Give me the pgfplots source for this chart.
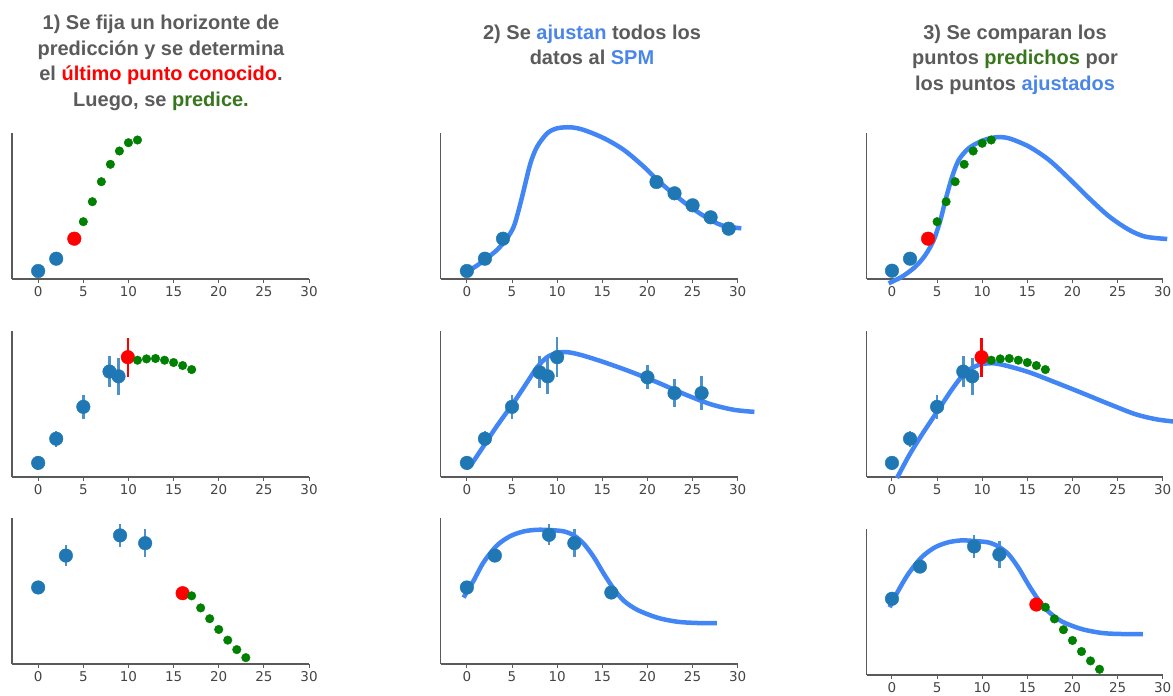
\documentclass[border=0pt]{standalone}
\usepackage{pgfplots}
\pgfplotsset{compat=1.18}
\usepackage{fontspec}
\newfontfamily\titlefont{Liberation Sans}
\newfontfamily\tickfont{DejaVu Sans}
\definecolor{titlegray}{HTML}{5B5B5B}
\definecolor{tred}{HTML}{FF0000}
\definecolor{tgreen}{HTML}{38761D}
\definecolor{tblue}{HTML}{4A86E8}
\definecolor{tabblue}{HTML}{1F77B4}
\definecolor{errblue}{HTML}{4C92C9}
\definecolor{curveblue}{HTML}{4285F4}
\definecolor{mplgreen}{HTML}{008000}
\definecolor{axisgray}{HTML}{5A5A5A}
\definecolor{ticktext}{HTML}{444444}
\pgfplotsset{
  panel/.style={
    width=297pt, height=146pt, scale only axis,
    xmin=-2.9, xmax=30, ymin=0, ymax=146,
    axis x line=bottom, axis y line=left,
    axis line style={-, draw=axisgray, line width=1.3pt},
    xtick={0,5,...,30}, ytick=\empty,
    tick align=outside, major tick length=4pt,
    tick style={draw=axisgray, line width=1pt},
    /pgf/number format/assume math mode=true,
    xticklabel style={font=\tickfont\fontsize{13.5pt}{15pt}\selectfont, text=ticktext},
    clip=false, anchor=south west,
  },
  bluept/.style={only marks, color=tabblue, mark=*, mark size=6.8pt, mark options={solid, draw=tabblue, fill=tabblue, line width=0.4pt}},
  redpt/.style={only marks, color=tred, mark=*, mark size=6.8pt, mark options={solid, draw=tred, fill=tred, line width=0.4pt}},
  greenpt/.style={only marks, color=mplgreen, mark=*, mark size=4.3pt, mark options={solid, draw=mplgreen, fill=mplgreen, line width=0.4pt}},
  spm/.style={smooth, line width=4.5pt, color=curveblue, mark=none},
}
\tikzset{ttl/.style={anchor=base, inner sep=0pt, text=titlegray, font=\titlefont\bfseries\fontsize{20pt}{24pt}\selectfont}}
\begin{document}
\begin{tikzpicture}
% ---- titles
\node[ttl] at (161pt,-29.3pt) {1) Se fija un horizonte de};
\node[ttl] at (161pt,-55pt) {predicción y se determina};
\node[ttl] at (161pt,-80.5pt) {el \textcolor{tred}{último punto conocido}.};
\node[ttl] at (161pt,-106pt) {Luego, se \textcolor{tgreen}{predice.}};
\node[ttl] at (592pt,-39.3pt) {2) Se \textcolor{tblue}{ajustan} todos los};
\node[ttl] at (592pt,-64.5pt) {datos al \textcolor{tblue}{SPM}};
\node[ttl] at (1015pt,-39.3pt) {3) Se comparan los};
\node[ttl] at (1015pt,-64.5pt) {puntos \textcolor{tgreen}{predichos} por};
\node[ttl] at (1015pt,-90pt) {los puntos \textcolor{tblue}{ajustados}};

% ================= ROW 1
\begin{axis}[panel, at={(12pt,-279pt)}]
\addplot[bluept] coordinates {(0,8) (2,20.3)};
\addplot[redpt] coordinates {(4,40.3)};
\addplot[greenpt] coordinates {(5,57.3) (6,77.3) (7,97.3) (8,114.7) (9,128) (10,136.3) (11,139)};
\end{axis}

\begin{axis}[panel, at={(440.7pt,-279pt)}]
\addplot[bluept] coordinates {(0,8) (2,20.3) (4,40.3) (21,97) (23,85.7) (25,73.7) (27,61.7) (29,50.3)};
\addplot[spm] coordinates {(-0.37,5) (1.48,15.7) (3.33,29) (4.44,40.7) (5.19,52.3) (5.74,69) (6.3,89) (7.04,115.7) (7.78,132.3) (8.9,145.7) (10,150.7) (11.5,151.7) (12.96,149) (15.2,140.7) (17.4,129) (19.6,112.3) (21.1,99) (22.6,87.3) (24.8,71.7) (27,59) (28.5,53) (30.4,50.7)};
\end{axis}

\begin{axis}[panel, at={(866.7pt,-279pt)}, xmin=-2.8, width=296pt]
\addplot[bluept] coordinates {(0,8.3) (2,20.3)};
\addplot[spm] coordinates {(-0.37,-4.3) (1.11,2.3) (2.59,12.3) (3.7,24) (4.63,39) (5.37,59) (5.93,79) (6.67,102.3) (7.4,119) (8.5,130.7) (10,138.3) (11.5,141.7) (12.96,140.7) (15.2,132.3) (17.4,119) (19.6,100.7) (21.85,80.7) (24.1,62.3) (26.3,49) (28.1,42.3) (30.5,40)};
\addplot[redpt] coordinates {(4,40.3)};
\addplot[greenpt] coordinates {(5,57.3) (6,77.3) (7,97.3) (8,114.7) (9,128) (10,135.7) (11,139)};
\end{axis}

% ================= ROW 2
\begin{axis}[panel, at={(12pt,-477pt)}, ymax=145]
\addplot[bluept, error bars/.cd, y dir=both, y explicit, error mark=none,
  error bar style={line width=2.5pt, color=errblue}] table[x=x,y=y,y error=e] {
x y e
0 14 7
2 38 8
5 69.7 11.7
7.9 104.7 15.8
8.9 100 18.3
};
\addplot[redpt, error bars/.cd, y dir=both, y explicit, error mark=none,
  error bar style={line width=2.5pt, color=tred}] table[x=x,y=y,y error=e] {
x y e
9.93 119 19.5
};
\addplot[greenpt] coordinates {(11,116) (12,117.3) (13,117.7) (14,116) (15,113.7) (16,110.7) (17,106.7)};
\end{axis}

\begin{axis}[panel, at={(440.7pt,-477pt)}, ymax=145]
\addplot[bluept, error bars/.cd, y dir=both, y explicit, error mark=none,
  error bar style={line width=2.5pt, color=errblue}] table[x=x,y=y,y error=e] {
x y e
0 14 7
2 38 8
5 69.7 11.7
8.05 104 16
8.95 100 18
10 119 20
20 99 12
23 83.3 14
26 83.3 17
};
\addplot[spm] coordinates {(0.37,10.7) (1.85,30.7) (3.33,50.7) (5.19,74) (6.67,94) (7.78,109) (8.89,119) (10,123.3) (11.1,124) (12.6,121.3) (15.2,114) (18.1,104.7) (21.1,94) (24.1,82.3) (27,72.3) (29.6,66.7) (31.85,64.7)};
\end{axis}

\begin{axis}[panel, at={(866.7pt,-477pt)}, xmin=-2.8, width=296pt, ymax=145]
\addplot[bluept, error bars/.cd, y dir=both, y explicit, error mark=none,
  error bar style={line width=2.5pt, color=errblue}] table[x=x,y=y,y error=e] {
x y e
0 14 7
2 38 8
5 69.7 11.7
7.9 104.7 15.8
8.9 100 18.3
};
\addplot[spm] coordinates {(0.56,-1) (1.85,20.7) (3.33,42.3) (5.19,67.3) (6.67,87.3) (8.15,104) (9.63,111.3) (11.1,113) (12.6,110.7) (15.2,104) (18.1,94) (21.1,83.3) (24.1,72.3) (27,62.3) (29.3,57.3) (31.3,55)};
\addplot[redpt, error bars/.cd, y dir=both, y explicit, error mark=none,
  error bar style={line width=2.5pt, color=tred}] table[x=x,y=y,y error=e] {
x y e
9.93 119 19.5
};
\addplot[greenpt] coordinates {(11,116) (12,117.3) (13,117.7) (14,116) (15,113.7) (16,110.7) (17,106.7)};
\end{axis}

% ================= ROW 3
\begin{axis}[panel, at={(12pt,-664pt)}, ymax=145]
\addplot[bluept, error bars/.cd, y dir=both, y explicit, error mark=none,
  error bar style={line width=2.5pt, color=errblue}] table[x=x,y=y,y error=e] {
x y e
0 76 5
3.07 107.7 10
9.07 127.7 11
11.85 120 14
};
\addplot[redpt] coordinates {(16,70.3)};
\addplot[greenpt] coordinates {(17,67.7) (18,55.7) (19,45) (20,34.3) (21,23.7) (22,14.3) (23,6.3)};
\end{axis}

\begin{axis}[panel, at={(440.7pt,-664pt)}, ymax=145]
\addplot[bluept, error bars/.cd, y dir=both, y explicit, error mark=none,
  error bar style={line width=2.5pt, color=errblue}] table[x=x,y=y,y error=e] {
x y e
0 76 5
3.1 107.7 5
9.1 128.3 10.5
11.9 120 14
16 71 4
};
\addplot[spm] coordinates {(-0.37,66) (0.74,82.7) (1.85,101) (3.33,117.7) (4.81,127) (6.3,131.7) (7.78,133.3) (9.26,133) (10.74,131.7) (11.85,127.7) (12.96,119.3) (14.07,106) (15.19,89.3) (16.3,74.3) (17.4,62.7) (18.9,53.7) (21.1,46) (23.3,42) (25.6,40.7) (27.7,40.7)};
\end{axis}

\begin{axis}[panel, at={(866.7pt,-675pt)}, xmin=-2.8, width=296pt, ymax=145]
\addplot[bluept, error bars/.cd, y dir=both, y explicit, error mark=none,
  error bar style={line width=2.5pt, color=errblue}] table[x=x,y=y,y error=e] {
x y e
0 75.7 5
3.1 107.7 5
9.1 127.7 11
11.9 119.7 13
};
\addplot[spm] coordinates {(-0.26,67.3) (0.67,83.3) (1.78,100) (3.26,116.7) (4.74,126.7) (6.2,131.7) (7.7,133.7) (9.2,133) (10.67,131.7) (11.78,127.7) (12.9,120) (14,106.7) (15.1,90) (16.2,75) (17.3,63.3) (18.8,53.3) (21,45.7) (23.3,41.7) (25.5,40.7) (27.8,40.7)};
\addplot[redpt] coordinates {(16,70)};
\addplot[greenpt] coordinates {(17,67.3) (18,55.7) (19,45) (20,34.3) (21,23.3) (22,14) (23,5.7)};
\end{axis}

\pgfresetboundingbox
\useasboundingbox (0pt,0pt) rectangle (1173pt,-696pt);
\end{tikzpicture}
\end{document}
